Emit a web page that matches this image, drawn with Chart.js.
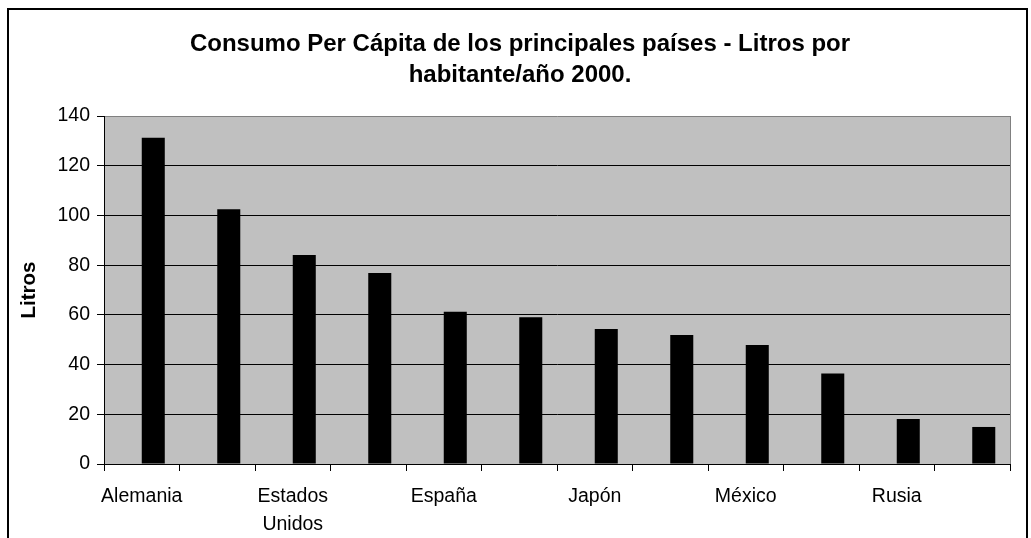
<!DOCTYPE html>
<html>
<head>
<meta charset="utf-8">
<script src="https://cdn.jsdelivr.net/npm/chart.js@4"></script>
<style>
  body { margin: 0; background: #fff; }
  #caja { width: 1031px; height: 538px; }
</style>
</head>
<body>
<div id="caja"><canvas id="grafico"></canvas></div>
<script>
// Datos (las etiquetas impares no se ven en el original)
const paises = ['Alemania', 'Reino Unido', ['Estados', 'Unidos'], 'Canadá', 'España', 'Colombia',
                'Japón', 'Brasil', 'México', 'Argentina', 'Rusia', 'China'];
// la primera serie del original está vacía: las barras quedan a la derecha de cada categoría
const serieVacia = [null, null, null, null, null, null, null, null, null, null, null, null];
const litros = [131.3, 102.5, 84.1, 76.8, 61.3, 59.0, 54.3, 51.9, 47.9, 36.4, 18.1, 14.9];
const ticksY = [0, 20, 40, 60, 80, 100, 120, 140];
const titulo = ['Consumo Per Cápita de los principales países - Litros por', 'habitante/año 2000.'];

const fuente = "'Liberation Sans', Arial, sans-serif";

// Fondo blanco, marco exterior, área gris y título centrado en el marco
const fondo = {
    id: 'fondo',
    beforeDraw(chart) {
        const ctx = chart.ctx;
        const a = chart.chartArea;
        ctx.save();
        ctx.fillStyle = '#fff';
        ctx.fillRect(0, 0, chart.width, chart.height);
        ctx.strokeStyle = '#000';
        ctx.lineWidth = 2;
        ctx.strokeRect(8, 9, 1019, 560);
        ctx.fillStyle = '#c0c0c0';
        ctx.fillRect(a.left, a.top, a.right - a.left, a.bottom - a.top);

        ctx.fillStyle = '#000';
        ctx.font = 'bold 24px ' + fuente;
        ctx.textAlign = 'center';
        ctx.textBaseline = 'middle';
        titulo.forEach((linea, i) => ctx.fillText(linea, 520, 44 + i * 31));
        ctx.restore();
    },
    afterDraw(chart) {
        const ctx = chart.ctx;
        const a = chart.chartArea;
        ctx.save();
        ctx.strokeStyle = '#808080';
        ctx.lineWidth = 1;
        ctx.beginPath();
        ctx.moveTo(a.right + 0.5, a.top);
        ctx.lineTo(a.right + 0.5, a.bottom);
        ctx.stroke();
        ctx.restore();
    }
};

new Chart(document.getElementById('grafico'), {
    type: 'bar',
    data: {
        labels: paises,
        datasets: [{
            data: serieVacia,
            backgroundColor: '#000'
        }, {
            data: litros,
            backgroundColor: '#000',
            borderWidth: 0
        }]
    },
    options: {
        responsive: true,
        maintainAspectRatio: false,
        animation: false,
        datasets: { bar: { barPercentage: 1, categoryPercentage: 0.61 } },
        layout: { padding: { left: 0, right: 21, top: 116, bottom: 0 } },
        plugins: {
            legend: { display: false },
            tooltip: { enabled: false },
            title: { display: false }
        },
        scales: {
            x: {
                grid: {
                    offset: true,
                    drawOnChartArea: false,
                    drawTicks: true,
                    tickLength: 7,
                    color: '#000'
                },
                border: { color: '#000', width: 1 },
                ticks: {
                    autoSkip: false,
                    maxRotation: 0,
                    padding: 11,
                    color: '#000',
                    font: { family: fuente, size: 19.5, lineHeight: 1.46 },
                    callback: function(valor, i) {
                        return i % 2 === 0 ? paises[i] : '';
                    }
                },
                afterFit(escala) { escala.height = 74; }
            },
            y: {
                min: 0,
                max: 140,
                afterBuildTicks(escala) {
                    escala.ticks = ticksY.map(v => ({ value: v }));
                },
                grid: {
                    color: ctx => (ctx.tick && ctx.tick.value === 140 ? '#808080' : '#000'),
                    tickColor: '#000',
                    tickLength: 7,
                    lineWidth: 1
                },
                border: { color: '#000', width: 1 },
                ticks: {
                    padding: 7,
                    color: '#000',
                    font: { family: fuente, size: 19.5 }
                },
                title: {
                    display: true,
                    text: 'Litros',
                    color: '#000',
                    font: { family: fuente, size: 20.5, weight: 'bold', lineHeight: 1.2 },
                    padding: { top: 17, bottom: 0 }
                },
                afterFit(escala) { escala.width = 104; }
            }
        }
    },
    plugins: [fondo]
});
</script>
</body>
</html>
